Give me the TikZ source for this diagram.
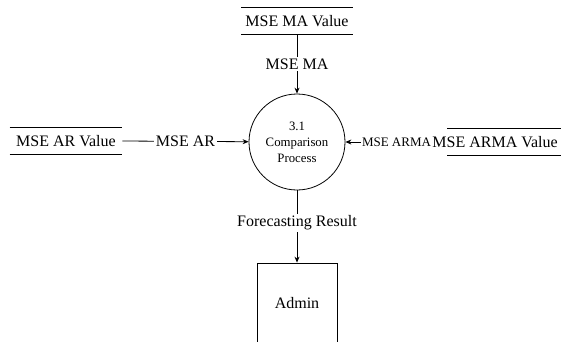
\documentclass[tikz,border=0pt]{standalone}
\usepackage{fontspec}
\setmainfont{Liberation Serif}
\usetikzlibrary{arrows.meta}

\begin{document}
\begin{tikzpicture}[x=1pt,y=-1pt,line width=0.8pt,>={Stealth[length=6pt,width=5pt]}]

      \useasboundingbox (0,0) rectangle (561,341);

      \begin{scope}[every node/.style={font=\fontsize{16}{18}\selectfont,minimum height=26pt,inner sep=0pt}]
        \node[minimum width=111pt] (ma)   at (297,21)  {MSE MA Value};
        \node[minimum width=112pt] (ar)   at (66,141)  {MSE AR Value};
        \node[anchor=west]         (arma) at (432,142) {MSE ARMA Value};
      \end{scope}

      % data store lines
      \draw (ma.north west) -- (ma.north east) (ma.south west) -- (ma.south east);
      \draw (ar.north west) -- (ar.north east) (ar.south west) -- (ar.south east);
      \draw ([xshift=15pt]arma.north west) -- ++(140,0)
            ([xshift=15pt]arma.south west) -- ++(140,0);

      \node[circle,draw,minimum size=96pt,align=center,
            font=\fontsize{12.8}{16}\selectfont] (cmp) at (297,142) {3.1\\Comparison\\Process};
      \node[draw,minimum width=80pt,minimum height=80pt,
            font=\fontsize{16}{18}\selectfont] (admin) at (297,303) {Admin};

      \begin{scope}[every node/.style={fill=white,inner sep=1.5pt,font=\fontsize{16}{18}\selectfont},
                    every edge/.style={draw,->}]
        \path (ma)        edge node {MSE MA} (cmp);
        \path (ar.east)   edge node {MSE AR} (cmp);
        \path (arma.west) edge node[pos=0.41,inner sep=1pt,font=\fontsize{13}{15}\selectfont] {MSE ARMA} (cmp);
        \path (cmp)       edge node[pos=0.45] {Forecasting Result} (admin);
      \end{scope}

    \end{tikzpicture}
\end{document}
